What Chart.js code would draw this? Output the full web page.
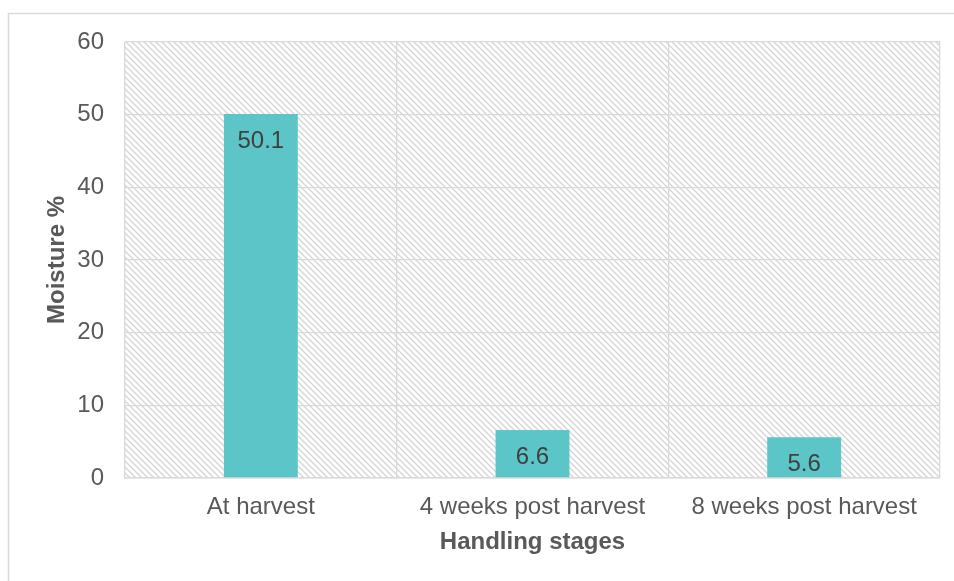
<!DOCTYPE html>
<html>
<head>
<meta charset="utf-8">
<script src="https://cdn.jsdelivr.net/npm/chart.js@4/dist/chart.umd.min.js"></script>
<style>
html,body{margin:0;padding:0;background:#fff;}
#wrap{position:relative;width:954px;height:581px;}
canvas{display:block;}
</style>
</head>
<body>
<div id="wrap"><canvas id="c" width="954" height="581"></canvas></div>
<script>
const categories = ["At harvest", "4 weeks post harvest", "8 weeks post harvest"];
const moisture = [50.1, 6.6, 5.6];
const yTitle = "Moisture %";
const xTitle = "Handling stages";

const FONT = "'Liberation Sans', Arial, sans-serif";

function makeHatch() {
  const s = 6;
  const c = document.createElement('canvas');
  c.width = s; c.height = s;
  const g = c.getContext('2d');
  g.fillStyle = '#ffffff';
  g.fillRect(0, 0, s, s);
  g.strokeStyle = '#d4d4d4';
  g.lineWidth = 1.3;
  g.beginPath();
  g.moveTo(-1, -1); g.lineTo(s + 1, s + 1);
  g.moveTo(-1, s - 1); g.lineTo(1, s + 1);
  g.moveTo(s - 1, -1); g.lineTo(s + 1, 1);
  g.stroke();
  return g.createPattern(c, 'repeat');
}

const framePlugin = {
  id: 'frame',
  beforeDraw(chart) {
    const ctx = chart.ctx;
    ctx.save();
    ctx.strokeStyle = '#d9d9d9';
    ctx.lineWidth = 1.5;
    ctx.beginPath();
    ctx.moveTo(8.5, 600);
    ctx.lineTo(8.5, 13.5);
    ctx.lineTo(1000, 13.5);
    ctx.stroke();
    const a = chart.chartArea;
    ctx.fillStyle = makeHatch();
    ctx.fillRect(a.left, a.top, a.right - a.left, a.bottom - a.top);
    ctx.restore();
  }
};

const labelPlugin = {
  id: 'barLabels',
  afterDatasetsDraw(chart) {
    const ctx = chart.ctx;
    const meta = chart.getDatasetMeta(0);
    ctx.save();
    ctx.fillStyle = '#404040';
    ctx.font = '24px ' + FONT;
    ctx.textAlign = 'center';
    ctx.textBaseline = 'middle';
    meta.data.forEach((bar, i) => {
      ctx.fillText(String(chart.data.datasets[0].data[i]), bar.x, bar.y + 27);
    });
    ctx.restore();
  }
};

new Chart(document.getElementById('c'), {
  type: 'bar',
  data: {
    labels: categories,
    datasets: [{
      data: moisture,
      backgroundColor: '#5bc5c8',
      borderWidth: 0,
      categoryPercentage: 1,
      barPercentage: 0.272
    }]
  },
  options: {
    responsive: false,
    animation: false,
    events: [],
    layout: { padding: { left: 0, right: 14, top: 42, bottom: 0 } },
    plugins: { legend: { display: false }, tooltip: { enabled: false } },
    scales: {
      x: {
        offset: true,
        grid: { color: '#d9d9d9', lineWidth: 1.3, offset: true, drawTicks: false },
        border: { color: '#d9d9d9', width: 1.5 },
        ticks: { color: '#595959', font: { family: FONT, size: 24 }, padding: 15, maxRotation: 0 },
        title: { display: true, text: xTitle, color: '#595959', font: { family: FONT, size: 24, weight: 'bold' }, padding: { top: 0, bottom: 24 } },
        afterFit(s) { s.height = 103; }
      },
      y: {
        min: 0, max: 60,
        ticks: { stepSize: 10, color: '#595959', font: { family: FONT, size: 24 }, padding: 21 },
        grid: { color: '#d9d9d9', lineWidth: 1.3, drawTicks: false },
        border: { display: false },
        title: { display: true, text: yTitle, color: '#595959', font: { family: FONT, size: 24, weight: 'bold' }, padding: { top: 43, bottom: 0 } },
        afterFit(s) { s.width = 125; }
      }
    }
  },
  plugins: [framePlugin, labelPlugin]
});
</script>
</body>
</html>
